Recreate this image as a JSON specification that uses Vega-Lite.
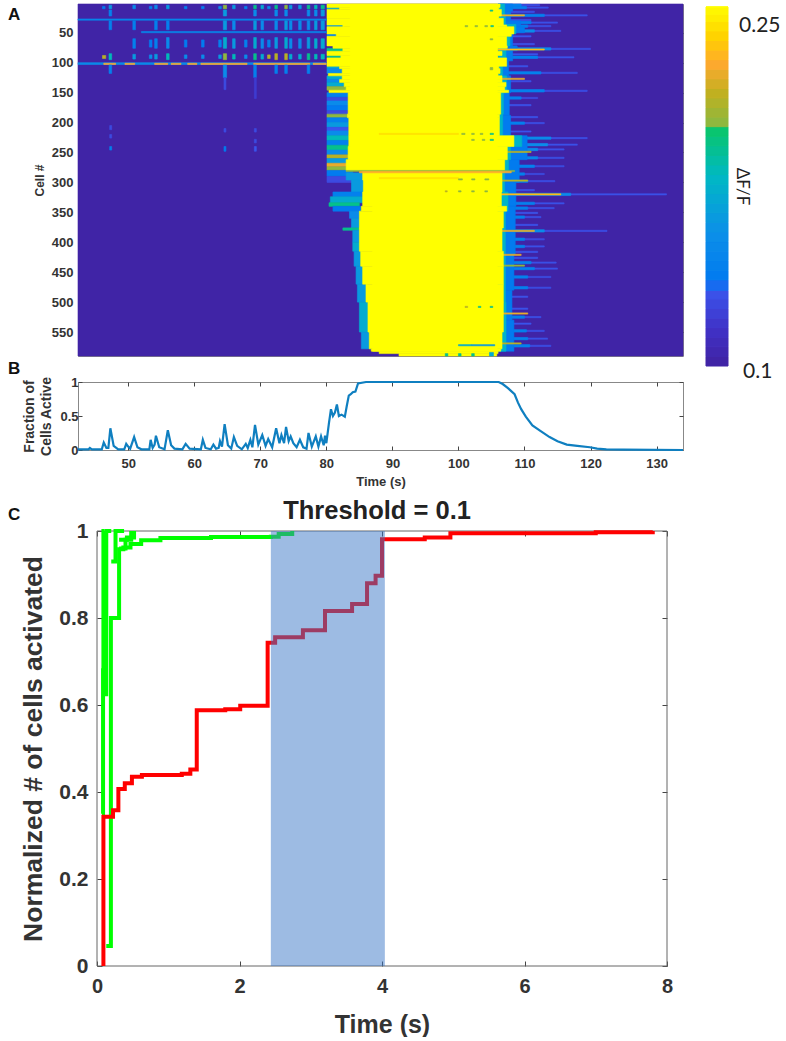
{"$schema":"https://vega.github.io/schema/vega-lite/v6.json","background":"white","padding":{"left":7,"top":3,"right":0,"bottom":0},"columns":2,"spacing":{"row":26,"column":23},"bounds":"flush","config":{"view":{"stroke":null},"font":"Liberation Sans","axis":{"grid":false,"labelFont":"Liberation Sans","titleFont":"Liberation Sans","labelFontWeight":"bold","titleFontWeight":"bold","labelColor":"#333","titleColor":"#333","tickColor":"#444","domain":false,"labelFlush":false,"labelOverlap":false}},
"datasets":{"heat":[
{"c0":2,"c1":590,"t0":42.4,"t1":134,"v":0.1},
{"c0":3,"c1":5,"t0":106,"t1":112.3,"v":0.128},{"c0":7,"c1":9,"t0":106,"t1":113.6,"v":0.128},{"c0":20,"c1":22,"t0":106,"t1":119.5,"v":0.128},{"c0":32,"c1":34,"t0":106,"t1":115,"v":0.128},{"c0":38,"c1":40,"t0":106,"t1":114,"v":0.128},{"c0":46,"c1":48,"t0":106,"t1":115.5,"v":0.128},{"c0":76,"c1":78,"t0":106,"t1":120,"v":0.128},{"c0":90,"c1":92,"t0":106,"t1":117.5,"v":0.128},{"c0":116,"c1":118,"t0":106,"t1":118,"v":0.128},{"c0":146,"c1":148,"t0":106,"t1":119.5,"v":0.128},{"c0":158,"c1":160,"t0":106,"t1":112,"v":0.128},{"c0":200,"c1":202,"t0":106,"t1":113,"v":0.128},{"c0":225,"c1":227,"t0":106,"t1":119.5,"v":0.128},{"c0":236,"c1":238,"t0":106,"t1":118,"v":0.128},{"c0":244,"c1":246,"t0":106,"t1":116,"v":0.128},{"c0":258,"c1":260,"t0":106,"t1":116,"v":0.128},{"c0":272,"c1":274,"t0":106,"t1":116,"v":0.128},{"c0":285,"c1":287,"t0":106,"t1":113,"v":0.128},{"c0":297,"c1":299,"t0":106,"t1":114.6,"v":0.128},{"c0":319,"c1":321,"t0":106,"t1":131.5,"v":0.128},{"c0":334,"c1":336,"t0":106,"t1":116,"v":0.128},{"c0":342,"c1":344,"t0":106,"t1":114.5,"v":0.128},{"c0":357,"c1":359,"t0":106,"t1":112.5,"v":0.128},{"c0":380,"c1":382,"t0":106,"t1":122.5,"v":0.128},{"c0":394,"c1":396,"t0":106,"t1":113,"v":0.128},{"c0":406,"c1":408,"t0":106,"t1":113,"v":0.128},{"c0":433,"c1":435,"t0":106,"t1":114.8,"v":0.128},{"c0":443,"c1":445,"t0":106,"t1":115,"v":0.128},{"c0":457,"c1":459,"t0":106,"t1":114,"v":0.128},{"c0":475,"c1":477,"t0":106,"t1":114,"v":0.128},{"c0":524,"c1":526,"t0":106,"t1":112.5,"v":0.128},{"c0":547,"c1":549,"t0":106,"t1":113,"v":0.128},{"c0":560,"c1":562,"t0":106,"t1":113.5,"v":0.128},{"c0":572,"c1":574,"t0":106,"t1":114,"v":0.128},
{"c0":14,"c1":16,"t0":106,"t1":111.5,"v":0.13},{"c0":28,"c1":30,"t0":106,"t1":111,"v":0.13},{"c0":55,"c1":57,"t0":106,"t1":111,"v":0.13},{"c0":68,"c1":70,"t0":106,"t1":111.5,"v":0.13},{"c0":85,"c1":87,"t0":106,"t1":112,"v":0.13},{"c0":105,"c1":107,"t0":106,"t1":110.5,"v":0.13},{"c0":130,"c1":132,"t0":106,"t1":111,"v":0.13},{"c0":170,"c1":172,"t0":106,"t1":111,"v":0.13},{"c0":190,"c1":192,"t0":106,"t1":112,"v":0.13},{"c0":214,"c1":216,"t0":106,"t1":111,"v":0.13},{"c0":312,"c1":314,"t0":106,"t1":111.5,"v":0.13},{"c0":350,"c1":352,"t0":106,"t1":112,"v":0.13},{"c0":370,"c1":372,"t0":106,"t1":112,"v":0.13},{"c0":415,"c1":417,"t0":106,"t1":112,"v":0.13},{"c0":425,"c1":427,"t0":106,"t1":112,"v":0.13},{"c0":490,"c1":492,"t0":106,"t1":110.5,"v":0.13},{"c0":510,"c1":512,"t0":106,"t1":110.5,"v":0.13},{"c0":535,"c1":537,"t0":106,"t1":111,"v":0.13},
{"c0":2,"c1":6,"t0":106,"t1":109.5,"v":0.14},{"c0":6,"c1":10,"t0":106,"t1":110.3,"v":0.14},{"c0":19,"c1":23,"t0":106,"t1":113,"v":0.14},{"c0":31,"c1":35,"t0":106,"t1":111,"v":0.14},{"c0":37,"c1":41,"t0":106,"t1":110.5,"v":0.14},{"c0":45,"c1":49,"t0":106,"t1":111.5,"v":0.15},{"c0":75,"c1":79,"t0":106,"t1":114,"v":0.15},{"c0":89,"c1":93,"t0":106,"t1":112,"v":0.14},{"c0":115,"c1":119,"t0":106,"t1":112.5,"v":0.14},{"c0":145,"c1":149,"t0":106,"t1":113,"v":0.14},{"c0":157,"c1":161,"t0":106,"t1":109.5,"v":0.14},{"c0":199,"c1":203,"t0":106,"t1":110,"v":0.14},{"c0":224,"c1":228,"t0":106,"t1":114,"v":0.15},{"c0":235,"c1":239,"t0":106,"t1":113.5,"v":0.15},{"c0":243,"c1":247,"t0":106,"t1":112,"v":0.15},{"c0":257,"c1":261,"t0":106,"t1":112,"v":0.145},{"c0":271,"c1":275,"t0":106,"t1":111.5,"v":0.14},{"c0":284,"c1":288,"t0":106,"t1":110,"v":0.14},{"c0":296,"c1":300,"t0":106,"t1":110.5,"v":0.14},{"c0":318,"c1":322,"t0":106,"t1":117,"v":0.15},{"c0":333,"c1":337,"t0":106,"t1":111.5,"v":0.14},{"c0":341,"c1":345,"t0":106,"t1":110.5,"v":0.14},{"c0":356,"c1":360,"t0":106,"t1":110,"v":0.14},{"c0":379,"c1":383,"t0":106,"t1":113,"v":0.15},{"c0":393,"c1":397,"t0":106,"t1":110,"v":0.14},{"c0":405,"c1":409,"t0":106,"t1":110,"v":0.14},{"c0":432,"c1":436,"t0":106,"t1":111,"v":0.14},{"c0":442,"c1":446,"t0":106,"t1":111.5,"v":0.14},{"c0":456,"c1":460,"t0":106,"t1":110.5,"v":0.14},{"c0":474,"c1":478,"t0":106,"t1":110.5,"v":0.14},{"c0":523,"c1":527,"t0":106,"t1":110,"v":0.14},{"c0":546,"c1":550,"t0":106,"t1":110.3,"v":0.14},{"c0":559,"c1":563,"t0":106,"t1":110.5,"v":0.14},{"c0":571,"c1":575,"t0":106,"t1":110.8,"v":0.14},
{"c0":2,"c1":14,"t0":106,"t1":108.2,"v":0.135},{"c0":14,"c1":30,"t0":106,"t1":107.9,"v":0.135},{"c0":30,"c1":40,"t0":106,"t1":109.4,"v":0.135},{"c0":40,"c1":50,"t0":106,"t1":110,"v":0.135},{"c0":50,"c1":72,"t0":106,"t1":108.2,"v":0.135},{"c0":72,"c1":80,"t0":106,"t1":108.9,"v":0.135},{"c0":80,"c1":97,"t0":106,"t1":108.2,"v":0.135},{"c0":97,"c1":122,"t0":106,"t1":107.6,"v":0.135},{"c0":122,"c1":150,"t0":106,"t1":107.9,"v":0.135},{"c0":150,"c1":188,"t0":106,"t1":107.7,"v":0.135},{"c0":188,"c1":222,"t0":106,"t1":107.9,"v":0.135},{"c0":222,"c1":262,"t0":106,"t1":110.4,"v":0.135},{"c0":262,"c1":300,"t0":106,"t1":109.2,"v":0.135},{"c0":300,"c1":340,"t0":106,"t1":108.7,"v":0.135},{"c0":340,"c1":420,"t0":106,"t1":108.6,"v":0.135},{"c0":420,"c1":480,"t0":106,"t1":108.4,"v":0.135},{"c0":480,"c1":530,"t0":106,"t1":108.1,"v":0.135},{"c0":530,"c1":582,"t0":106,"t1":108.4,"v":0.135},
{"c0":2,"c1":20,"t0":106,"t1":107,"v":0.175},{"c0":20,"c1":36,"t0":106,"t1":107.1,"v":0.175},{"c0":36,"c1":52,"t0":106,"t1":108.7,"v":0.175},{"c0":52,"c1":72,"t0":106,"t1":107.8,"v":0.175},{"c0":72,"c1":97,"t0":106,"t1":107.2,"v":0.175},{"c0":97,"c1":122,"t0":106,"t1":106.7,"v":0.175},{"c0":122,"c1":150,"t0":106,"t1":107.3,"v":0.175},{"c0":150,"c1":186,"t0":106,"t1":106.8,"v":0.175},{"c0":186,"c1":222,"t0":106,"t1":106.7,"v":0.175},{"c0":222,"c1":240,"t0":106,"t1":109.6,"v":0.175},{"c0":240,"c1":262,"t0":106,"t1":107.9,"v":0.175},{"c0":262,"c1":280,"t0":106,"t1":107.6,"v":0.175},{"c0":280,"c1":316,"t0":106,"t1":107,"v":0.175},{"c0":316,"c1":348,"t0":106,"t1":107.5,"v":0.175},{"c0":348,"c1":415,"t0":106,"t1":107.1,"v":0.175},{"c0":415,"c1":500,"t0":106,"t1":107.1,"v":0.175},{"c0":500,"c1":582,"t0":106,"t1":107.2,"v":0.175},
{"c0":20,"c1":22,"t0":106,"t1":110,"v":0.22},{"c0":77,"c1":79,"t0":106,"t1":113,"v":0.23},{"c0":126,"c1":128,"t0":106,"t1":110,"v":0.22},{"c0":248,"c1":250,"t0":106,"t1":111,"v":0.21},{"c0":296,"c1":298,"t0":106,"t1":110.5,"v":0.21},{"c0":319,"c1":321,"t0":106,"t1":115.5,"v":0.23},{"c0":380,"c1":382,"t0":106,"t1":111.5,"v":0.22},{"c0":420,"c1":422,"t0":106,"t1":109.5,"v":0.22},{"c0":438,"c1":440,"t0":106,"t1":110,"v":0.2},{"c0":518,"c1":520,"t0":106,"t1":110.5,"v":0.22},{"c0":568,"c1":570,"t0":106,"t1":109.5,"v":0.21},
{"c0":8,"c1":11,"t0":80.1,"t1":82.2,"v":0.17},{"c0":37,"c1":40,"t0":80.1,"t1":82.7,"v":0.16},{"c0":52,"c1":56,"t0":80.1,"t1":81.7,"v":0.14},{"c0":76,"c1":81,"t0":80.1,"t1":82.7,"v":0.19},{"c0":88,"c1":92,"t0":80.1,"t1":82.4,"v":0.19},{"c0":106,"c1":110,"t0":80.1,"t1":82.2,"v":0.17},{"c0":110,"c1":118,"t0":80.1,"t1":82.6,"v":0.15},{"c0":122,"c1":128,"t0":80.1,"t1":82.6,"v":0.17},{"c0":128,"c1":133,"t0":80.1,"t1":82.2,"v":0.15},{"c0":133,"c1":140,"t0":80.1,"t1":82.9,"v":0.17},{"c0":140,"c1":146,"t0":80.1,"t1":83.2,"v":0.2},
{"c0":150,"c1":158,"t0":80.1,"t1":83.5,"v":0.14},{"c0":158,"c1":164,"t0":80.1,"t1":83.4,"v":0.125},{"c0":164,"c1":172,"t0":80.1,"t1":83.6,"v":0.15},{"c0":172,"c1":180,"t0":80.1,"t1":83.5,"v":0.135},{"c0":180,"c1":186,"t0":80.1,"t1":83.4,"v":0.125},{"c0":186,"c1":192,"t0":80.1,"t1":86,"v":0.2},{"c0":192,"c1":200,"t0":80.1,"t1":83.5,"v":0.14},{"c0":200,"c1":208,"t0":80.1,"t1":83.4,"v":0.16},{"c0":208,"c1":214,"t0":80.1,"t1":83.6,"v":0.13},{"c0":214,"c1":222,"t0":80.1,"t1":83.5,"v":0.15},{"c0":222,"c1":230,"t0":80.1,"t1":83.5,"v":0.18},{"c0":230,"c1":238,"t0":80.1,"t1":83.4,"v":0.14},{"c0":238,"c1":246,"t0":80.1,"t1":83.5,"v":0.19},{"c0":246,"c1":254,"t0":80.1,"t1":83.4,"v":0.15},{"c0":254,"c1":260,"t0":80.1,"t1":83.5,"v":0.21},{"c0":260,"c1":268,"t0":80.1,"t1":83.4,"v":0.16},{"c0":268,"c1":274,"t0":80.1,"t1":83.4,"v":0.22},{"c0":274,"c1":280,"t0":80.1,"t1":83.2,"v":0.2},
{"c0":280,"c1":290,"t0":80.1,"t1":84,"v":0.135},{"c0":290,"c1":300,"t0":80.1,"t1":84.5,"v":0.125},{"c0":284,"c1":296,"t0":83,"t1":86,"v":0.16},{"c0":296,"c1":316,"t0":83.8,"t1":85.8,"v":0.16},{"c0":316,"c1":324,"t0":81,"t1":85.7,"v":0.14},{"c0":324,"c1":334,"t0":80.6,"t1":85.7,"v":0.17},{"c0":334,"c1":340,"t0":80.4,"t1":85,"v":0.19},{"c0":340,"c1":348,"t0":81,"t1":85.5,"v":0.135},{"c0":348,"c1":360,"t0":83.5,"t1":85.2,"v":0.15},{"c0":360,"c1":376,"t0":83.8,"t1":85.2,"v":0.16},{"c0":376,"c1":380,"t0":82.5,"t1":85.2,"v":0.19},{"c0":380,"c1":400,"t0":84,"t1":85.2,"v":0.16},{"c0":400,"c1":415,"t0":84,"t1":85.2,"v":0.17},{"c0":415,"c1":440,"t0":84.2,"t1":85.4,"v":0.16},{"c0":440,"c1":470,"t0":84.5,"t1":85.7,"v":0.16},{"c0":470,"c1":500,"t0":84.7,"t1":86.2,"v":0.16},{"c0":500,"c1":550,"t0":85,"t1":86.5,"v":0.17},{"c0":550,"c1":578,"t0":85.3,"t1":86.7,"v":0.16},
{"c0":2,"c1":8,"t0":80.1,"t1":106.3,"v":0.25},{"c0":8,"c1":11,"t0":82,"t1":106.1,"v":0.25},{"c0":11,"c1":22,"t0":80.1,"t1":106.5,"v":0.25},{"c0":22,"c1":26,"t0":80.1,"t1":106.1,"v":0.25},{"c0":26,"c1":37,"t0":80.1,"t1":106.8,"v":0.25},{"c0":37,"c1":40,"t0":82.5,"t1":107.3,"v":0.25},{"c0":40,"c1":52,"t0":80.1,"t1":108.4,"v":0.25},{"c0":52,"c1":56,"t0":81.5,"t1":108,"v":0.25},{"c0":56,"c1":72,"t0":80.1,"t1":107.3,"v":0.25},{"c0":72,"c1":76,"t0":81,"t1":107.4,"v":0.25},{"c0":76,"c1":81,"t0":82.5,"t1":105.9,"v":0.25},{"c0":81,"c1":88,"t0":80.1,"t1":106.6,"v":0.25},{"c0":88,"c1":92,"t0":82.2,"t1":105.9,"v":0.25},{"c0":92,"c1":106,"t0":80.1,"t1":107.3,"v":0.25},{"c0":106,"c1":110,"t0":82,"t1":106.1,"v":0.25},{"c0":110,"c1":118,"t0":82.4,"t1":106.3,"v":0.25},{"c0":118,"c1":122,"t0":80.3,"t1":106,"v":0.25},{"c0":122,"c1":128,"t0":82.4,"t1":106.6,"v":0.25},{"c0":128,"c1":133,"t0":82,"t1":106.6,"v":0.25},{"c0":133,"c1":140,"t0":82.7,"t1":107.2,"v":0.25},{"c0":140,"c1":146,"t0":83,"t1":107,"v":0.25},{"c0":146,"c1":150,"t0":80.4,"t1":107.6,"v":0.25},{"c0":150,"c1":186,"t0":83.3,"t1":106.4,"v":0.25},{"c0":186,"c1":192,"t0":83.2,"t1":106.2,"v":0.25},{"c0":192,"c1":222,"t0":83.4,"t1":106.2,"v":0.25},{"c0":222,"c1":240,"t0":83.4,"t1":108.4,"v":0.25},{"c0":240,"c1":262,"t0":83.3,"t1":107.4,"v":0.25},{"c0":262,"c1":280,"t0":83,"t1":107,"v":0.25},{"c0":280,"c1":296,"t0":85.5,"t1":106.6,"v":0.25},{"c0":296,"c1":316,"t0":85.6,"t1":106.6,"v":0.25},{"c0":316,"c1":340,"t0":85.5,"t1":106.5,"v":0.25},{"c0":340,"c1":348,"t0":85.3,"t1":107.3,"v":0.25},{"c0":348,"c1":376,"t0":85,"t1":106.8,"v":0.25},{"c0":376,"c1":415,"t0":85,"t1":106.6,"v":0.25},{"c0":415,"c1":440,"t0":85.2,"t1":106.8,"v":0.25},{"c0":440,"c1":470,"t0":85.5,"t1":106.8,"v":0.25},{"c0":470,"c1":500,"t0":86,"t1":106.8,"v":0.25},{"c0":500,"c1":550,"t0":86.3,"t1":106.8,"v":0.25},{"c0":550,"c1":578,"t0":86.5,"t1":106.6,"v":0.25},{"c0":578,"c1":582,"t0":86.8,"t1":106.4,"v":0.25},{"c0":582,"c1":586,"t0":88,"t1":106,"v":0.25},{"c0":586,"c1":590,"t0":91,"t1":105.8,"v":0.25},
{"c0":2,"c1":280,"t0":83.6,"t1":105.9,"v":0.25},{"c0":280,"c1":582,"t0":87,"t1":105.9,"v":0.25},
{"c0":280,"c1":282,"t0":83,"t1":108.5,"v":0.2},{"c0":282,"c1":284,"t0":85,"t1":108,"v":0.225},{"c0":218,"c1":220,"t0":88,"t1":100,"v":0.24},{"c0":292,"c1":294,"t0":88,"t1":100,"v":0.24},
{"c0":38,"c1":40,"t0":101,"t1":101.4,"v":0.2},{"c0":38,"c1":40,"t0":102.5,"t1":102.9,"v":0.2},{"c0":38,"c1":40,"t0":104,"t1":104.4,"v":0.2},{"c0":38,"c1":40,"t0":104.9,"t1":105.3,"v":0.19},{"c0":12,"c1":14,"t0":104.8,"t1":105.2,"v":0.19},{"c0":60,"c1":62,"t0":104.8,"t1":105.2,"v":0.2},{"c0":108,"c1":112,"t0":104.8,"t1":105.2,"v":0.2},
{"c0":218,"c1":220,"t0":100.5,"t1":101,"v":0.2},{"c0":218,"c1":220,"t0":102,"t1":102.4,"v":0.2},{"c0":218,"c1":220,"t0":103.3,"t1":103.7,"v":0.2},{"c0":218,"c1":220,"t0":104.8,"t1":105.3,"v":0.19},{"c0":228,"c1":230,"t0":102,"t1":102.4,"v":0.2},{"c0":228,"c1":230,"t0":103.6,"t1":104,"v":0.2},{"c0":228,"c1":230,"t0":104.8,"t1":105.3,"v":0.19},{"c0":294,"c1":296,"t0":100,"t1":100.6,"v":0.2},{"c0":294,"c1":296,"t0":102,"t1":102.5,"v":0.2},{"c0":294,"c1":296,"t0":104,"t1":104.6,"v":0.2},{"c0":314,"c1":316,"t0":98,"t1":98.3,"v":0.21},{"c0":314,"c1":316,"t0":100,"t1":100.4,"v":0.2},{"c0":314,"c1":316,"t0":102,"t1":102.4,"v":0.2},{"c0":314,"c1":316,"t0":104,"t1":104.4,"v":0.2},{"c0":507,"c1":509,"t0":101,"t1":101.4,"v":0.21},{"c0":507,"c1":509,"t0":103,"t1":103.4,"v":0.19},{"c0":507,"c1":509,"t0":104.8,"t1":105.2,"v":0.19},{"c0":571,"c1":573,"t0":100,"t1":102,"v":0.17},{"c0":571,"c1":573,"t0":102,"t1":105.5,"v":0.16},{"c0":586,"c1":590,"t0":98,"t1":98.4,"v":0.19},{"c0":586,"c1":590,"t0":100,"t1":100.4,"v":0.19},{"c0":586,"c1":590,"t0":102,"t1":102.4,"v":0.19},{"c0":584,"c1":590,"t0":104.7,"t1":105.3,"v":0.17},
{"c0":27,"c1":29,"t0":42.4,"t1":80,"v":0.145},{"c0":48,"c1":50,"t0":52,"t1":80,"v":0.145},{"c0":100,"c1":103,"t0":42.4,"t1":80,"v":0.15},{"c0":101,"c1":103,"t0":46.3,"t1":48.1,"v":0.225},{"c0":101,"c1":103,"t0":49.5,"t1":51,"v":0.225},{"c0":101,"c1":103,"t0":54,"t1":56,"v":0.225},{"c0":101,"c1":103,"t0":56.5,"t1":58,"v":0.225},{"c0":101,"c1":103,"t0":59,"t1":60.4,"v":0.225},{"c0":101,"c1":103,"t0":61,"t1":68,"v":0.225},{"c0":101,"c1":103,"t0":69,"t1":77.5,"v":0.225},{"c0":101,"c1":103,"t0":78,"t1":80,"v":0.225},
{"c0":4,"c1":10,"t0":47.1,"t1":47.5,"v":0.16},{"c0":12,"c1":22,"t0":47.1,"t1":47.5,"v":0.14},{"c0":30,"c1":45,"t0":47.1,"t1":47.5,"v":0.14},{"c0":85,"c1":95,"t0":47.1,"t1":47.5,"v":0.18},{"c0":104,"c1":118,"t0":47.1,"t1":47.5,"v":0.14},
{"c0":4,"c1":10,"t0":55.8,"t1":56.2,"v":0.16},{"c0":30,"c1":45,"t0":55.8,"t1":56.2,"v":0.14},{"c0":58,"c1":76,"t0":55.8,"t1":56.2,"v":0.15},{"c0":85,"c1":95,"t0":55.8,"t1":56.2,"v":0.18},
{"c0":4,"c1":10,"t0":64.4,"t1":64.9,"v":0.2},{"c0":12,"c1":22,"t0":64.4,"t1":64.9,"v":0.16},{"c0":30,"c1":45,"t0":64.4,"t1":64.9,"v":0.16},{"c0":58,"c1":76,"t0":64.4,"t1":64.9,"v":0.17},{"c0":85,"c1":95,"t0":64.4,"t1":64.9,"v":0.2},{"c0":104,"c1":125,"t0":64.4,"t1":64.9,"v":0.15},
{"c0":4,"c1":10,"t0":69,"t1":69.4,"v":0.19},{"c0":12,"c1":22,"t0":69,"t1":69.4,"v":0.15},{"c0":30,"c1":45,"t0":69,"t1":69.4,"v":0.16},{"c0":58,"c1":76,"t0":69,"t1":69.4,"v":0.17},{"c0":85,"c1":95,"t0":69,"t1":69.4,"v":0.19},{"c0":104,"c1":125,"t0":69,"t1":69.4,"v":0.14},
{"c0":4,"c1":10,"t0":72.2,"t1":72.6,"v":0.19},{"c0":12,"c1":22,"t0":72.2,"t1":72.6,"v":0.15},{"c0":30,"c1":45,"t0":72.2,"t1":72.6,"v":0.15},{"c0":58,"c1":76,"t0":72.2,"t1":72.6,"v":0.16},{"c0":85,"c1":95,"t0":72.2,"t1":72.6,"v":0.21},{"c0":104,"c1":118,"t0":72.2,"t1":72.6,"v":0.14},
{"c0":4,"c1":10,"t0":73.7,"t1":74.1,"v":0.2},{"c0":12,"c1":22,"t0":73.7,"t1":74.1,"v":0.15},{"c0":30,"c1":45,"t0":73.7,"t1":74.1,"v":0.16},{"c0":58,"c1":76,"t0":73.7,"t1":74.1,"v":0.17},{"c0":85,"c1":95,"t0":73.7,"t1":74.1,"v":0.21},{"c0":104,"c1":118,"t0":73.7,"t1":74.1,"v":0.14},
{"c0":4,"c1":10,"t0":77.1,"t1":77.5,"v":0.19},{"c0":12,"c1":22,"t0":77.1,"t1":77.5,"v":0.15},{"c0":30,"c1":45,"t0":77.1,"t1":77.5,"v":0.15},{"c0":58,"c1":76,"t0":77.1,"t1":77.5,"v":0.16},{"c0":85,"c1":95,"t0":77.1,"t1":77.5,"v":0.19},{"c0":104,"c1":118,"t0":77.1,"t1":77.5,"v":0.14},
{"c0":4,"c1":10,"t0":50.7,"t1":51.1,"v":0.15},{"c0":30,"c1":45,"t0":50.7,"t1":51.1,"v":0.14},{"c0":60,"c1":76,"t0":50.7,"t1":51.1,"v":0.14},{"c0":86,"c1":94,"t0":50.7,"t1":51.1,"v":0.16},
{"c0":4,"c1":10,"t0":54,"t1":54.4,"v":0.15},{"c0":30,"c1":45,"t0":54,"t1":54.4,"v":0.14},{"c0":60,"c1":76,"t0":54,"t1":54.4,"v":0.14},{"c0":86,"c1":94,"t0":54,"t1":54.4,"v":0.16},
{"c0":4,"c1":10,"t0":65.8,"t1":66.2,"v":0.16},{"c0":30,"c1":45,"t0":65.8,"t1":66.2,"v":0.15},{"c0":60,"c1":76,"t0":65.8,"t1":66.2,"v":0.16},{"c0":86,"c1":94,"t0":65.8,"t1":66.2,"v":0.18},
{"c0":4,"c1":10,"t0":70.1,"t1":70.5,"v":0.17},{"c0":30,"c1":45,"t0":70.1,"t1":70.5,"v":0.15},{"c0":60,"c1":76,"t0":70.1,"t1":70.5,"v":0.15},{"c0":86,"c1":94,"t0":70.1,"t1":70.5,"v":0.17},
{"c0":4,"c1":10,"t0":74.4,"t1":74.8,"v":0.16},{"c0":30,"c1":45,"t0":74.4,"t1":74.8,"v":0.15},{"c0":60,"c1":76,"t0":74.4,"t1":74.8,"v":0.15},{"c0":86,"c1":94,"t0":74.4,"t1":74.8,"v":0.17},
{"c0":4,"c1":10,"t0":75.8,"t1":76.2,"v":0.16},{"c0":30,"c1":45,"t0":75.8,"t1":76.2,"v":0.15},{"c0":60,"c1":76,"t0":75.8,"t1":76.2,"v":0.15},{"c0":86,"c1":94,"t0":75.8,"t1":76.2,"v":0.17},
{"c0":4,"c1":10,"t0":78.2,"t1":78.6,"v":0.18},{"c0":12,"c1":22,"t0":78.2,"t1":78.6,"v":0.15},{"c0":30,"c1":45,"t0":78.2,"t1":78.6,"v":0.16},{"c0":60,"c1":76,"t0":78.2,"t1":78.6,"v":0.17},{"c0":86,"c1":94,"t0":78.2,"t1":78.6,"v":0.18},
{"c0":4,"c1":10,"t0":79.2,"t1":79.7,"v":0.19},{"c0":12,"c1":22,"t0":79.2,"t1":79.7,"v":0.16},{"c0":30,"c1":45,"t0":79.2,"t1":79.7,"v":0.16},{"c0":60,"c1":76,"t0":79.2,"t1":79.7,"v":0.17},{"c0":86,"c1":94,"t0":79.2,"t1":79.7,"v":0.18},
{"c0":6,"c1":10,"t0":46.1,"t1":46.5,"v":0.135},{"c0":88,"c1":93,"t0":46.1,"t1":46.6,"v":0.21},
{"c0":6,"c1":10,"t0":53.2,"t1":53.6,"v":0.14},{"c0":62,"c1":74,"t0":53.2,"t1":53.6,"v":0.135},{"c0":87,"c1":93,"t0":53.2,"t1":53.6,"v":0.15},
{"c0":6,"c1":10,"t0":58.5,"t1":58.9,"v":0.14},{"c0":62,"c1":74,"t0":58.5,"t1":58.9,"v":0.135},{"c0":87,"c1":93,"t0":58.5,"t1":58.9,"v":0.15},
{"c0":6,"c1":10,"t0":61.1,"t1":61.5,"v":0.14},{"c0":62,"c1":74,"t0":61.1,"t1":61.5,"v":0.135},{"c0":87,"c1":93,"t0":61.1,"t1":61.5,"v":0.15},
{"c0":6,"c1":10,"t0":63.7,"t1":64.1,"v":0.15},{"c0":62,"c1":74,"t0":63.7,"t1":64.1,"v":0.14},{"c0":87,"c1":93,"t0":63.7,"t1":64.1,"v":0.16},
{"c0":6,"c1":10,"t0":67.6,"t1":68,"v":0.14},{"c0":62,"c1":74,"t0":67.6,"t1":68,"v":0.14},{"c0":87,"c1":93,"t0":67.6,"t1":68,"v":0.15},
{"c0":6,"c1":10,"t0":71.1,"t1":71.5,"v":0.15},{"c0":62,"c1":74,"t0":71.1,"t1":71.5,"v":0.14},{"c0":87,"c1":93,"t0":71.1,"t1":71.5,"v":0.21},
{"c0":205,"c1":212,"t0":47.2,"t1":47.5,"v":0.125},{"c0":220,"c1":226,"t0":47.2,"t1":47.5,"v":0.125},{"c0":240,"c1":246,"t0":47.2,"t1":47.5,"v":0.14},{"c0":210,"c1":216,"t0":64.5,"t1":64.8,"v":0.125},{"c0":240,"c1":248,"t0":64.5,"t1":64.8,"v":0.135},{"c0":210,"c1":216,"t0":69.1,"t1":69.4,"v":0.125},{"c0":228,"c1":234,"t0":69.1,"t1":69.4,"v":0.125},{"c0":240,"c1":248,"t0":69.1,"t1":69.4,"v":0.13},{"c0":125,"c1":160,"t0":69.1,"t1":69.4,"v":0.118},{"c0":125,"c1":145,"t0":64.5,"t1":64.8,"v":0.125}
],
"colorbar":[{"v0":0.1,"v1":0.104},{"v0":0.104,"v1":0.108},{"v0":0.108,"v1":0.112},{"v0":0.112,"v1":0.116},{"v0":0.116,"v1":0.12},{"v0":0.12,"v1":0.124},{"v0":0.124,"v1":0.128},{"v0":0.128,"v1":0.1316},{"v0":0.1316,"v1":0.136},{"v0":0.136,"v1":0.14},{"v0":0.14,"v1":0.144},{"v0":0.144,"v1":0.148},{"v0":0.148,"v1":0.152},{"v0":0.152,"v1":0.156},{"v0":0.156,"v1":0.16},{"v0":0.16,"v1":0.164},{"v0":0.164,"v1":0.168},{"v0":0.168,"v1":0.172},{"v0":0.172,"v1":0.176},{"v0":0.176,"v1":0.18},{"v0":0.18,"v1":0.184},{"v0":0.184,"v1":0.188},{"v0":0.188,"v1":0.192},{"v0":0.192,"v1":0.196},{"v0":0.196,"v1":0.2},{"v0":0.2,"v1":0.204},{"v0":0.204,"v1":0.208},{"v0":0.208,"v1":0.212},{"v0":0.212,"v1":0.216},{"v0":0.216,"v1":0.22},{"v0":0.22,"v1":0.224},{"v0":0.224,"v1":0.228},{"v0":0.228,"v1":0.232},{"v0":0.232,"v1":0.236},{"v0":0.236,"v1":0.24},{"v0":0.24,"v1":0.244},{"v0":0.244,"v1":0.247},{"v0":0.247,"v1":0.25},{"v0":0.25,"v1":0.25}],
"active":[{"t":42.4,"y":0.01},{"t":44,"y":0.01},{"t":44.2,"y":0.03},{"t":44.5,"y":0.01},{"t":46,"y":0.01},{"t":46.3,"y":0.11},{"t":46.7,"y":0.03},{"t":47,"y":0.03},{"t":47.3,"y":0.32},{"t":47.8,"y":0.06},{"t":48.5,"y":0.01},{"t":49.4,"y":0.01},{"t":49.7,"y":0.09},{"t":50,"y":0.05},{"t":50.3,"y":0.02},{"t":50.9,"y":0.19},{"t":51.4,"y":0.04},{"t":52,"y":0.01},{"t":53.2,"y":0.01},{"t":53.4,"y":0.15},{"t":53.7,"y":0.03},{"t":54,"y":0.08},{"t":54.2,"y":0.21},{"t":54.7,"y":0.04},{"t":55.5,"y":0.01},{"t":56,"y":0.29},{"t":56.5,"y":0.07},{"t":57,"y":0.02},{"t":58.2,"y":0.01},{"t":58.7,"y":0.09},{"t":59.3,"y":0.02},{"t":61,"y":0.01},{"t":61.3,"y":0.15},{"t":61.7,"y":0.03},{"t":62.5,"y":0.01},{"t":62.9,"y":0.08},{"t":63.3,"y":0.02},{"t":63.7,"y":0.03},{"t":63.9,"y":0.13},{"t":64.2,"y":0.05},{"t":64.6,"y":0.38},{"t":65.1,"y":0.07},{"t":65.6,"y":0.02},{"t":66,"y":0.19},{"t":66.5,"y":0.06},{"t":67.2,"y":0.01},{"t":67.8,"y":0.09},{"t":68.1,"y":0.03},{"t":68.5,"y":0.15},{"t":68.8,"y":0.04},{"t":69.2,"y":0.37},{"t":69.7,"y":0.08},{"t":70.3,"y":0.22},{"t":70.8,"y":0.06},{"t":71.2,"y":0.16},{"t":71.8,"y":0.04},{"t":72.4,"y":0.32},{"t":72.9,"y":0.1},{"t":73.2,"y":0.22},{"t":73.6,"y":0.1},{"t":73.9,"y":0.34},{"t":74.3,"y":0.13},{"t":74.6,"y":0.2},{"t":75,"y":0.1},{"t":75.5,"y":0.04},{"t":76,"y":0.15},{"t":76.5,"y":0.04},{"t":77,"y":0.02},{"t":77.3,"y":0.25},{"t":77.8,"y":0.05},{"t":78.4,"y":0.2},{"t":78.8,"y":0.05},{"t":79.2,"y":0.2},{"t":79.6,"y":0.07},{"t":79.8,"y":0.21},{"t":80,"y":0.1},{"t":80.4,"y":0.4},{"t":80.7,"y":0.6},{"t":81,"y":0.5},{"t":81.3,"y":0.55},{"t":81.6,"y":0.67},{"t":81.9,"y":0.5},{"t":82.3,"y":0.52},{"t":82.8,"y":0.49},{"t":83.1,"y":0.65},{"t":83.4,"y":0.8},{"t":83.7,"y":0.82},{"t":84,"y":0.85},{"t":84.4,"y":0.86},{"t":84.8,"y":0.98},{"t":86,"y":1},{"t":105,"y":1},{"t":106.1,"y":1},{"t":106.7,"y":0.97},{"t":107.5,"y":0.91},{"t":108.5,"y":0.82},{"t":109,"y":0.7},{"t":109.5,"y":0.6},{"t":110.2,"y":0.49},{"t":111.2,"y":0.36},{"t":112.4,"y":0.28},{"t":113.8,"y":0.19},{"t":115,"y":0.13},{"t":116.4,"y":0.08},{"t":118,"y":0.06},{"t":119.9,"y":0.04},{"t":121,"y":0.02},{"t":122.4,"y":0.01},{"t":125,"y":0.005},{"t":134,"y":0}],
"curves":[
{"s":"g1","t":0.07,"y":0.35},{"s":"g1","t":0.085,"y":0.68},{"s":"g1","t":0.09,"y":1},{"s":"g1","t":0.1,"y":1},
{"s":"g2","t":0.13,"y":0.046},{"s":"g2","t":0.195,"y":0.046},{"s":"g2","t":0.195,"y":0.8},{"s":"g2","t":0.31,"y":0.8},{"s":"g2","t":0.31,"y":0.958},{"s":"g2","t":0.37,"y":0.962},{"s":"g2","t":0.47,"y":0.97},{"s":"g2","t":0.62,"y":0.979},{"s":"g2","t":0.89,"y":0.984},{"s":"g2","t":1.6,"y":0.986},{"s":"g2","t":2.44,"y":0.987},{"s":"g2","t":2.55,"y":0.993},{"s":"g2","t":2.74,"y":1},
{"s":"g3","t":0.13,"y":0.62},{"s":"g3","t":0.13,"y":1},{"s":"g3","t":0.2,"y":1},
{"s":"g4","t":0.2,"y":0.93},{"s":"g4","t":0.26,"y":0.93},{"s":"g4","t":0.26,"y":1},{"s":"g4","t":0.38,"y":1},
{"s":"g5","t":0.31,"y":0.96},{"s":"g5","t":0.4,"y":0.98},{"s":"g5","t":0.48,"y":1},
{"s":"g6","t":0.31,"y":0.98},{"s":"g6","t":0.42,"y":0.985},{"s":"g6","t":0.52,"y":1},
{"s":"r","t":0.09,"y":0},{"s":"r","t":0.09,"y":0.343},{"s":"r","t":0.225,"y":0.358},{"s":"r","t":0.3,"y":0.407},{"s":"r","t":0.39,"y":0.42},{"s":"r","t":0.49,"y":0.435},{"s":"r","t":0.63,"y":0.439},{"s":"r","t":1.19,"y":0.442},{"s":"r","t":1.31,"y":0.452},{"s":"r","t":1.4,"y":0.588},{"s":"r","t":1.8,"y":0.59},{"s":"r","t":2.01,"y":0.598},{"s":"r","t":2.395,"y":0.743},{"s":"r","t":2.5,"y":0.756},{"s":"r","t":2.89,"y":0.772},{"s":"r","t":3.2,"y":0.816},{"s":"r","t":3.58,"y":0.832},{"s":"r","t":3.79,"y":0.88},{"s":"r","t":3.91,"y":0.897},{"s":"r","t":4,"y":0.981},{"s":"r","t":4.6,"y":0.985},{"s":"r","t":4.96,"y":0.995},{"s":"r","t":7,"y":0.997},{"s":"r","t":7.8,"y":1}
]},
"concat":[
{"width":605,"height":352,"view":{"stroke":"#888"},"resolve":{"axis":{"y":"independent"}},"layer":[
{"data":{"name":"heat"},"mark":{"type":"rect","strokeWidth":0.6},"encoding":{"x":{"field":"t0","type":"quantitative","scale":{"domain":[42.4,134],"nice":false,"zero":false},"axis":null},"x2":{"field":"t1"},"y":{"field":"c0","type":"quantitative","scale":{"domain":[2,590],"reverse":true,"nice":false,"zero":false},"axis":{"orient":"left","values":[50,100,150,200,250,300,350,400,450,500,550],"title":"Cell #","titleFontSize":12,"labelFontSize":13,"tickSize":-4,"labelPadding":9,"titlePadding":5}},"y2":{"field":"c1"},"color":{"field":"v","type":"quantitative","legend":null,"scale":{"interpolate":"rgb","clamp":true,"domain":[0.1,0.1125,0.1313,0.1318,0.1543,0.1773,0.1995,0.2,0.212,0.2245,0.235,0.245,0.25],"range":["#4024a6","#4030c4","#3a58f0","#0078f0","#0c90e8","#00b8c4","#0bc760","#8fb83e","#c0b020","#ffa92f","#ffd000","#fff000","#ffff00"]}},"stroke":{"field":"v","type":"quantitative","legend":null,"scale":{"interpolate":"rgb","clamp":true,"domain":[0.1,0.1125,0.1313,0.1318,0.1543,0.1773,0.1995,0.2,0.212,0.2245,0.235,0.245,0.25],"range":["#4024a6","#4030c4","#3a58f0","#0078f0","#0c90e8","#00b8c4","#0bc760","#8fb83e","#c0b020","#ffa92f","#ffd000","#fff000","#ffff00"]}}}},
{"data":{"values":[{"c":2}]},"mark":{"type":"rule","opacity":0},"encoding":{"y":{"field":"c","type":"quantitative","scale":{"domain":[2,590],"reverse":true,"nice":false,"zero":false},"axis":{"orient":"right","values":[50,100,150,200,250,300,350,400,450,500,550],"labels":false,"title":null,"tickSize":-4}}}},
{"data":{"values":[{"label":"A"}]},"mark":{"type":"text","align":"left","dx":-70,"dy":11,"fontSize":17,"fontWeight":"bold","color":"#111"},"encoding":{"x":{"datum":42.4,"axis":null},"y":{"datum":2,"axis":null},"text":{"field":"label"}}}
]},
{"width":22,"height":352,"layer":[
{"data":{"name":"colorbar"},"mark":{"type":"rect","strokeWidth":1},"encoding":{"x":{"datum":0,"scale":{"domain":[0,1],"nice":false,"zero":false},"axis":null},"x2":{"datum":1},"y":{"field":"v0","type":"quantitative","scale":{"domain":[0.1,0.25],"range":[362,3],"nice":false,"zero":false},"axis":null},"y2":{"field":"v1"},"color":{"field":"v0","type":"quantitative","legend":null,"scale":{"interpolate":"rgb","clamp":true,"domain":[0.1,0.1125,0.1313,0.1318,0.1543,0.1773,0.1995,0.2,0.212,0.2245,0.235,0.245,0.25],"range":["#4024a6","#4030c4","#3a58f0","#0078f0","#0c90e8","#00b8c4","#0bc760","#8fb83e","#c0b020","#ffa92f","#ffd000","#fff000","#ffff00"]}},"stroke":{"field":"v0","type":"quantitative","legend":null,"scale":{"interpolate":"rgb","clamp":true,"domain":[0.1,0.1125,0.1313,0.1318,0.1543,0.1773,0.1995,0.2,0.212,0.2245,0.235,0.245,0.25],"range":["#4024a6","#4030c4","#3a58f0","#0078f0","#0c90e8","#00b8c4","#0bc760","#8fb83e","#c0b020","#ffa92f","#ffd000","#fff000","#ffff00"]}}}},
{"data":{"values":[{"label":"0.25","v":0.25}]},"mark":{"type":"text","align":"left","dx":11,"dy":19,"font":"Lato","fontSize":21,"color":"#222"},"encoding":{"x":{"datum":1,"axis":null},"y":{"field":"v","type":"quantitative","axis":null},"text":{"field":"label"}}},
{"data":{"values":[{"label":"0.1","v":0.1}]},"mark":{"type":"text","align":"left","dx":15,"dy":6,"font":"Lato","fontSize":21,"color":"#222"},"encoding":{"x":{"datum":1,"axis":null},"y":{"field":"v","type":"quantitative","axis":null},"text":{"field":"label"}}},
{"data":{"values":[{"label":"ΔF/F","v":0.175}]},"mark":{"type":"text","angle":90,"dy":-14,"font":"Lato","fontSize":17,"color":"#222"},"encoding":{"x":{"datum":1,"axis":null},"y":{"field":"v","type":"quantitative","axis":null},"text":{"field":"label"}}}
]},
{"width":605,"height":68,"view":{"stroke":"#888"},"resolve":{"axis":{"x":"independent","y":"independent"}},"layer":[
{"data":{"name":"active"},"mark":{"type":"line","color":"#0f7fc0","strokeWidth":2.2},"encoding":{"x":{"field":"t","type":"quantitative","scale":{"domain":[42.4,134],"nice":false,"zero":false},"axis":{"orient":"bottom","values":[50,60,70,80,90,100,110,120,130],"title":"Time (s)","titleFontSize":13,"labelFontSize":13,"tickSize":-4,"labelPadding":11,"titlePadding":5}},"y":{"field":"y","type":"quantitative","scale":{"domain":[0,1],"nice":false,"zero":false},"axis":{"orient":"left","values":[0,0.5,1],"format":"~g","title":["Fraction of","Cells Active"],"titleFontSize":14,"titleLineHeight":17,"labelFontSize":13,"tickSize":-4,"labelPadding":4,"titlePadding":6}}}},
{"data":{"values":[{"t":42.4,"y":0}]},"mark":{"type":"point","opacity":0},"encoding":{"x":{"field":"t","type":"quantitative","scale":{"domain":[42.4,134],"nice":false,"zero":false},"axis":{"orient":"top","values":[50,60,70,80,90,100,110,120,130],"labels":false,"title":null,"tickSize":-4}},"y":{"field":"y","type":"quantitative","scale":{"domain":[0,1],"nice":false,"zero":false},"axis":{"orient":"right","values":[0,0.5,1],"labels":false,"title":null,"tickSize":-4}}}},
{"data":{"values":[{"label":"B"}]},"mark":{"type":"text","align":"left","dx":-70,"dy":-13,"fontSize":17,"fontWeight":"bold","color":"#111"},"encoding":{"x":{"datum":42.4,"axis":null},"y":{"datum":1,"axis":null},"text":{"field":"label"}}}
]},
{"width":22,"height":68,"data":{"values":[]},"mark":{"type":"point"},"encoding":{}},
{"width":605,"height":490,"resolve":{"axis":{"x":"independent","y":"independent"}},"layer":[
{"data":{"values":[{"series":"frame"}]},"mark":{"type":"rect","fill":null,"stroke":"#666","strokeWidth":1},"encoding":{"x":{"datum":0,"scale":{"domain":[0,8],"range":[19,589],"nice":false,"zero":false},"axis":{"orient":"bottom","values":[0,2,4,6,8],"title":"Time (s)","titleFontSize":25,"labelFontSize":20,"tickSize":-5,"labelPadding":15,"titlePadding":16}},"x2":{"datum":8},"y":{"datum":0,"scale":{"domain":[0,1],"range":[490,55],"nice":false,"zero":false},"axis":{"orient":"left","offset":-19,"values":[0,0.2,0.4,0.6,0.8,1],"format":"~g","title":"Normalized # of cells activated","titleFontSize":26.5,"labelFontSize":21,"tickSize":-5,"labelPadding":14,"titlePadding":11}},"y2":{"datum":1}}},
{"data":{"values":[{"t":0,"y":0}]},"mark":{"type":"point","opacity":0},"encoding":{"x":{"field":"t","type":"quantitative","scale":{"domain":[0,8],"range":[19,589],"nice":false,"zero":false},"axis":{"orient":"top","offset":-55,"values":[0,2,4,6,8],"labels":false,"title":null,"tickSize":-5}},"y":{"field":"y","type":"quantitative","scale":{"domain":[0,1],"range":[490,55],"nice":false,"zero":false},"axis":{"orient":"right","offset":-16,"values":[0,0.2,0.4,0.6,0.8,1],"labels":false,"title":null,"tickSize":-5}}}},
{"data":{"name":"curves"},"mark":{"type":"line","interpolate":"step-after","strokeWidth":4},"encoding":{"x":{"field":"t","type":"quantitative","axis":null},"y":{"field":"y","type":"quantitative","axis":null},"detail":{"field":"s"},"order":null,"color":{"field":"s","type":"nominal","legend":null,"scale":{"domain":["g1","g2","g3","g4","g5","g6","r"],"range":["#00ff00","#00ff00","#00ff00","#00ff00","#00ff00","#00ff00","#ff0000"]}}}},
{"data":{"values":[{"x0":2.44,"x1":4.04,"y0":0,"y1":1}]},"mark":{"type":"rect","color":"#3b77c7","opacity":0.5},"encoding":{"x":{"field":"x0","type":"quantitative","axis":null},"x2":{"field":"x1"},"y":{"field":"y0","type":"quantitative","axis":null},"y2":{"field":"y1"}}},
{"data":{"values":[{"label":"Threshold = 0.1"}]},"mark":{"type":"text","dy":-20,"fontSize":25.5,"fontWeight":"bold","color":"#222"},"encoding":{"x":{"datum":3.93,"axis":null},"y":{"datum":1,"axis":null},"text":{"field":"label"}}},
{"data":{"values":[{"label":"C"}]},"mark":{"type":"text","align":"left","dx":-89,"dy":-16,"fontSize":17,"fontWeight":"bold","color":"#111"},"encoding":{"x":{"datum":0,"axis":null},"y":{"datum":1,"axis":null},"text":{"field":"label"}}}
]}
]}
